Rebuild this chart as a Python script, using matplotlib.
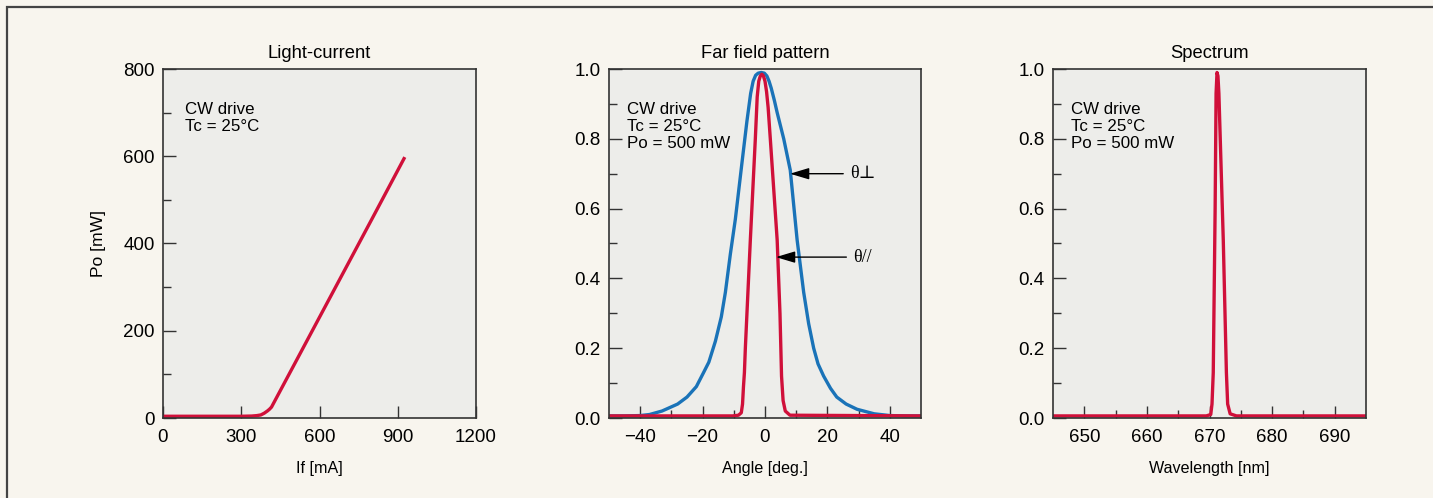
import numpy as np
import matplotlib
matplotlib.use("Agg")
import matplotlib.pyplot as plt
from matplotlib.patches import Rectangle

plt.rcParams['font.family'] = ['Liberation Sans', 'DejaVu Sans']

# ---------------- data ----------------
li_current = [0, 100, 200, 300, 340, 360, 375, 388, 400, 408, 416, 500, 600, 700, 800, 927]
li_power = [4, 4, 4, 4, 4.5, 5.5, 7, 11, 16, 20, 25, 119, 231, 343, 455, 598]

ff_angle_perp = [-50, -45, -40, -37, -33, -28, -25, -22, -19.7, -18, -15.9, -14, -12.7,
                 -11.1, -9.5, -7.4, -5.8, -4.6, -3.8, -3.0, -2.2, -1.2, -0.2, 0.6, 1.3,
                 2.0, 3.0, 3.9, 6.0, 8.1, 10.3, 12.4, 14, 15.6, 17, 18.8, 21, 23.0, 26,
                 29.5, 35, 40, 45, 50]
ff_int_perp = [0.006, 0.006, 0.007, 0.01, 0.02, 0.04, 0.06, 0.09, 0.13, 0.16, 0.22, 0.29,
               0.36, 0.47, 0.57, 0.73, 0.85, 0.93, 0.965, 0.982, 0.988, 0.99, 0.988, 0.98,
               0.965, 0.945, 0.91, 0.875, 0.80, 0.71, 0.51, 0.36, 0.27, 0.20, 0.155, 0.12,
               0.085, 0.06, 0.04, 0.025, 0.012, 0.007, 0.006, 0.006]

ff_angle_par = [-50, -10.3, -8.5, -7.6, -7.2, -6.9, -6.6, -6.3, -4.7, -3.1, -2.5, -2.0,
                -1.5, -1.0, -0.5, 0.0, 0.5, 1.0, 1.7, 3.9, 4.8, 5.3, 5.8, 6.5, 8.0, 50]
ff_int_par = [0.006, 0.006, 0.008, 0.015, 0.04, 0.09, 0.13, 0.2, 0.51, 0.80, 0.92, 0.965,
              0.98, 0.985, 0.98, 0.965, 0.935, 0.89, 0.80, 0.51, 0.3, 0.12, 0.05, 0.02,
              0.008, 0.006]

sp_wavelength = [645, 669.5, 670.2, 670.4, 670.6, 670.9, 671.05, 671.2, 671.35, 671.5,
                 671.8, 672.2, 672.7, 672.9, 673.3, 674.3, 695]
sp_intensity = [0.006, 0.006, 0.01, 0.04, 0.13, 0.6, 0.93, 0.99, 0.98, 0.93,
                0.75, 0.51, 0.13, 0.04, 0.012, 0.006, 0.006]

titles = ["Light-current", "Far field pattern", "Spectrum"]
xlabels = ["If [mA]", "Angle [deg.]", "Wavelength [nm]"]
note_lc = "CW drive\nTc = 25°C"
note_ff = "CW drive\nTc = 25°C\nPo = 500 mW"

RED = "#d0103a"
BLUE = "#1a73b8"
FIG_BG = "#f8f5ee"
AX_BG = "#ededea"
SPINE = "#333333"

W, H = 1433, 498
fig = plt.figure(figsize=(W / 100, H / 100), dpi=100, facecolor=FIG_BG)

def ax_rect(x0, x1, y0, y1):
    return [x0 / W, 1 - y1 / H, (x1 - x0) / W, (y1 - y0) / H]

axes = [fig.add_axes(ax_rect(163, 476, 69, 418)),
        fig.add_axes(ax_rect(609, 921, 69, 418)),
        fig.add_axes(ax_rect(1053, 1366, 69, 418))]

# border of the panel
fig.patches.append(Rectangle((7 / W, -0.1), 1.2, 1 - 7 / H + 0.1, transform=fig.transFigure,
                             fill=False, edgecolor="#444444", linewidth=1.6))

TICK_FS = 13.5
TITLE_FS = 13.2
XLAB_FS = 11.6
NOTE_FS = 12.2
LW = 2.4

for ax, t, xl in zip(axes, titles, xlabels):
    ax.set_facecolor(AX_BG)
    for s in ax.spines.values():
        s.set_color(SPINE)
        s.set_linewidth(1.2)
    ax.set_title(t, fontsize=TITLE_FS, pad=8)
    ax.set_xlabel(xl, fontsize=XLAB_FS, labelpad=11)
    ax.tick_params(which="both", direction="in", color=SPINE, labelsize=TICK_FS,
                   top=False, right=False)
    ax.tick_params(which="major", length=9, width=1.0, pad=6)
    ax.tick_params(axis="x", which="major", pad=8)
    ax.tick_params(which="minor", length=6, width=1.0)

# ---- Light-current
ax = axes[0]
ax.plot(li_current, li_power, color=RED, lw=LW, solid_capstyle="butt", solid_joinstyle="round")
ax.set_xlim(0, 1200)
ax.set_ylim(0, 800)
ax.set_xticks([0, 300, 600, 900, 1200])
ax.set_yticks([0, 200, 400, 600, 800])
ax.set_yticks([100, 300, 500, 700], minor=True)
ax.set_ylabel("Po [mW]", fontsize=12.6, labelpad=12)
ax.text(0.07, 0.905, note_lc, transform=ax.transAxes, fontsize=NOTE_FS, va="top",
        linespacing=1.15)

# ---- Far field
ax = axes[1]
ax.plot(ff_angle_perp, ff_int_perp, color=BLUE, lw=LW, solid_joinstyle="round")
ax.plot(ff_angle_par, ff_int_par, color=RED, lw=LW, solid_joinstyle="round")
ax.set_xlim(-50, 50)
ax.set_ylim(0, 1.0)
ax.set_xticks([-40, -20, 0, 20, 40])
ax.set_xticklabels(["\u221240", "\u221220", "0", "20", "40"])
ax.set_xticks([-30, -10, 10, 30], minor=True)
ax.set_yticks([0, 0.2, 0.4, 0.6, 0.8, 1.0])
ax.set_yticklabels(["0.0", "0.2", "0.4", "0.6", "0.8", "1.0"])
ax.set_yticks([0.1, 0.3, 0.5, 0.7, 0.9], minor=True)
ax.text(0.057, 0.905, note_ff, transform=ax.transAxes, fontsize=NOTE_FS, va="top",
        linespacing=1.15)
arrowprops = dict(arrowstyle="-|>,head_length=0.9,head_width=0.27", color="black", lw=1.0,
                  shrinkA=3, shrinkB=0)
ax.annotate("θ⊥", xy=(8.0, 0.70), xytext=(27.3, 0.70), fontsize=13, va="center",
            arrowprops=arrowprops, family=["Liberation Serif", "DejaVu Serif"])
ax.annotate("θ//", xy=(3.5, 0.461), xytext=(28.3, 0.461), fontsize=13, va="center",
            arrowprops=arrowprops, family=["Liberation Serif", "DejaVu Serif"])

# ---- Spectrum
ax = axes[2]
ax.plot(sp_wavelength, sp_intensity, color=RED, lw=LW, solid_joinstyle="round")
ax.set_xlim(645, 695)
ax.set_ylim(0, 1.0)
ax.set_xticks([650, 660, 670, 680, 690])
ax.set_xticks([655, 665, 675, 685], minor=True)
ax.set_yticks([0, 0.2, 0.4, 0.6, 0.8, 1.0])
ax.set_yticklabels(["0.0", "0.2", "0.4", "0.6", "0.8", "1.0"])
ax.set_yticks([0.1, 0.3, 0.5, 0.7, 0.9], minor=True)
ax.text(0.057, 0.905, note_ff, transform=ax.transAxes, fontsize=NOTE_FS, va="top",
        linespacing=1.15)

fig.savefig("out.png", dpi=100, facecolor=FIG_BG)
